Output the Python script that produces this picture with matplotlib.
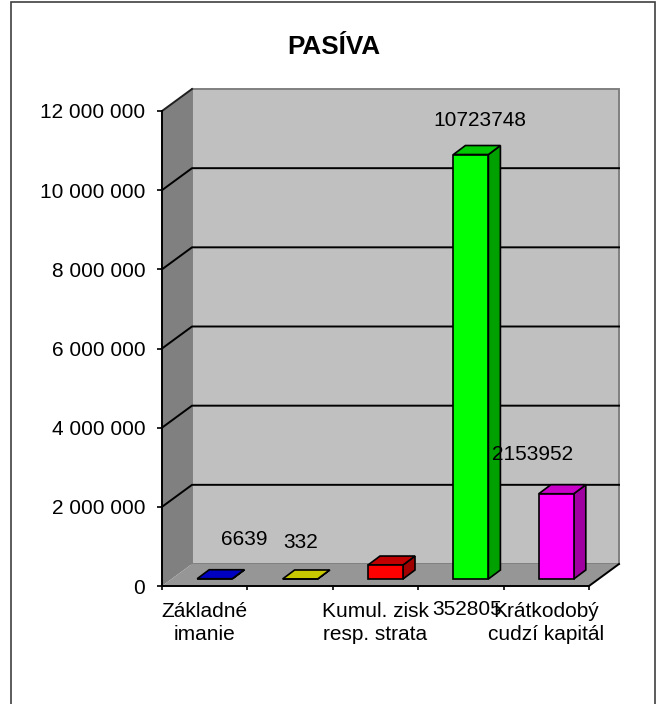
import matplotlib
matplotlib.use('Agg')
import matplotlib.pyplot as plt
from matplotlib.patches import Polygon, Rectangle
from matplotlib.ticker import FuncFormatter

plt.rcParams['font.family'] = ['Liberation Sans', 'DejaVu Sans']

# data
categories = ['Základné\nimanie', '', 'Kumul. zisk\nresp. strata', '', 'Krátkodobý\ncudzí kapitál']
values = [6639, 332, 352805, 10723748, 2153952]
front_colors = ['#0000ff', '#ffff00', '#ff0000', '#00ff00', '#ff00ff']
top_colors = ['#0000c0', '#c8c800', '#c00000', '#00c800', '#c800c8']
side_colors = ['#000090', '#909000', '#a00000', '#00a000', '#a000a0']
yticks = [0, 2000000, 4000000, 6000000, 8000000, 10000000, 12000000]
title = 'PASÍVA'

W, H = 656, 704
# front plane of the 3d box, pixels
left, right, bottom, top = 162, 589, 586, 111
depth_x, depth_y = 30, 22
bar_dx, bar_dy = 12, 9
bar_width = 35 / 85.4

# where the data labels sit relative to the bar top centre, in pixels
label_offsets = [(30, 39), (1, 36), (82, -44), (9, 34), (-24, 39)]

fig = plt.figure(figsize=(W / 100, H / 100), dpi=100)
# the outer frame runs off the bottom of the picture
fig.patches.append(Rectangle((11 / W, 1 - 710 / H), 643.5 / W, 708 / H, transform=fig.transFigure,
                             fc='white', ec='#404040', lw=1.2, zorder=-1))
ax = fig.add_axes([left / W, 1 - bottom / H, (right - left) / W, (bottom - top) / H])
ax.set_xlim(0, len(values))
ax.set_ylim(0, yticks[-1])
ax.patch.set_visible(False)

ux = len(values) / (right - left)   # data units per pixel
uy = yticks[-1] / (bottom - top)
dx, dy = depth_x * ux, depth_y * uy
n = len(values)
ymax = yticks[-1]


def poly(points, fc, ec='none', lw=0, z=1):
    ax.add_patch(Polygon(points, closed=True, fc=fc, ec=ec, lw=lw, zorder=z, clip_on=False))


# walls and floor
poly([(dx, dy), (n + dx, dy), (n + dx, ymax + dy), (dx, ymax + dy)], '#c0c0c0', '#808080', 1.4)
poly([(0, 0), (dx, dy), (dx, ymax + dy), (0, ymax)], '#808080')
poly([(0, 0), (n, 0), (n + dx, dy), (dx, dy)], '#969696')
ax.plot([n, n + dx], [0, dy], color='black', lw=1.4, zorder=2, clip_on=False)

# gridlines run along the back wall and down the side wall
for t in yticks[1:]:
    if t == ymax:
        ax.plot([0, dx], [t, t + dy], color='#202020', lw=1.4, zorder=2, clip_on=False)
    else:
        ax.plot([0, dx, n + dx], [t, t + dy, t + dy], color='black', lw=1.4, zorder=2, clip_on=False)

# bars
bh = 7 * uy      # bars stand a little behind the front edge
bdx, bdy = bar_dx * ux, bar_dy * uy
for i, v in enumerate(values):
    x0 = i + 0.5 + 10 * ux - bar_width / 2
    x1 = x0 + bar_width
    y1 = bh + v
    poly([(x1, bh), (x1 + bdx, bh + bdy), (x1 + bdx, y1 + bdy), (x1, y1)], side_colors[i], 'black', 1.2, 3)
    poly([(x0, y1), (x1, y1), (x1 + bdx, y1 + bdy), (x0 + bdx, y1 + bdy)], top_colors[i], 'black', 1.2, 3)
    ax.bar(x0, v, bar_width, bottom=bh, align='edge', color=front_colors[i], edgecolor='black', lw=1.2, zorder=4)
    ax.annotate(str(v), (x0 + bar_width / 2, y1), xytext=(label_offsets[i][0] * 0.72, label_offsets[i][1] * 0.72),
                textcoords='offset points', ha='center', va='center', fontsize=15, color='black',
                zorder=5, annotation_clip=False)

# axes
for s in ['top', 'right']:
    ax.spines[s].set_visible(False)
for s in ['left', 'bottom']:
    ax.spines[s].set_linewidth(1.4)
    ax.spines[s].set_zorder(3)
ax.set_yticks(yticks)
ax.yaxis.set_major_formatter(FuncFormatter(lambda v, p: f'{int(v):,}'.replace(',', ' ')))
ax.tick_params(axis='y', length=3.6, width=1.2, labelsize=15, pad=8.5)
ax.set_xticks(range(n + 1))
ax.set_xticklabels([])
ax.set_xticks([i + 0.5 for i in range(n)], categories, minor=True)
ax.tick_params(axis='x', which='major', length=3, width=1.2)
ax.tick_params(axis='x', which='minor', length=0, labelsize=15, pad=11.2)
for lab in ax.get_xticklabels(minor=True):
    lab.set_linespacing(1.3)

fig.text(334 / W, 1 - 47 / H, title, ha='center', va='center', fontsize=18.8, fontweight='bold')

plt.savefig('out.png', dpi=100)
